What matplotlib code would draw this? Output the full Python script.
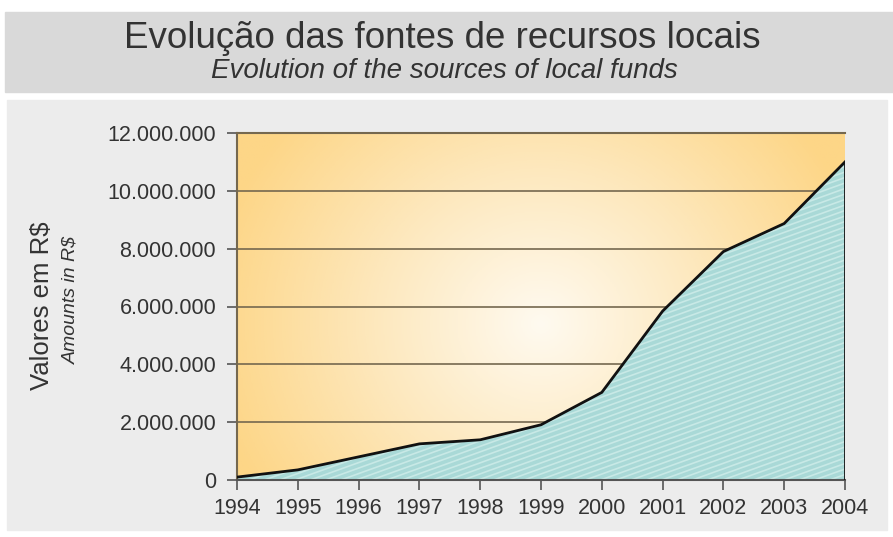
import numpy as np
import matplotlib.pyplot as plt
from matplotlib.patches import Rectangle
from matplotlib.collections import LineCollection
from matplotlib.colors import LinearSegmentedColormap

years = [1994, 1995, 1996, 1997, 1998, 1999, 2000, 2001, 2002, 2003, 2004]
valores = [100000, 350000, 800000, 1250000, 1390000, 1910000, 3030000,
           5840000, 7900000, 8870000, 11000000]
yticks = [0, 2000000, 4000000, 6000000, 8000000, 10000000, 12000000]

plt.rcParams['font.family'] = ['Liberation Sans', 'DejaVu Sans']
txt = '#333333'

fig = plt.figure(figsize=(8.93, 5.37), dpi=100, facecolor='white')

# faixa do titulo e painel de fundo
fig.patches.append(Rectangle((5 / 893, 1 - 92 / 537), 1, 80 / 537,
                             transform=fig.transFigure, color='#d9d9d9', zorder=-2))
fig.patches.append(Rectangle((7 / 893, 1 - 530 / 537), 880 / 893, 430 / 537,
                             transform=fig.transFigure, color='#ececec', zorder=-2))

fig.text(0.495, 1 - 48 / 537, 'Evolução das fontes de recursos locais',
         ha='center', va='baseline', fontsize=26.5, color=txt)
fig.text(0.498, 1 - 78 / 537, 'Evolution of the sources of local funds',
         ha='center', va='baseline', fontsize=20, style='italic', color=txt)

ax = fig.add_axes([237 / 893, 1 - 480 / 537, 608 / 893, 347 / 537])
ax.set_xlim(years[0], years[-1])
ax.set_ylim(0, 12000000)

# fundo em degrade (laranja nas bordas, claro no centro)
gx, gy = np.meshgrid(np.linspace(0, 1, 300), np.linspace(0, 1, 200))
dist = np.sqrt(((gx - 0.5) / 0.55) ** 2 + ((gy - 0.45) / 0.9) ** 2)
dist = np.clip(dist, 0, 1)
cmap = LinearSegmentedColormap.from_list('bg', ['#fffaf0', '#fde8bd', '#fdd687'])
ax.imshow(dist, cmap=cmap, extent=[years[0], years[-1], 0, 12000000],
          aspect='auto', origin='lower', zorder=0, vmin=0, vmax=1)

for v in yticks[1:]:
    ax.axhline(v, color='#75684f', lw=1.2, zorder=1)

area = ax.fill_between(years, valores, 0, facecolor='#a9d9d7', linewidth=0, zorder=2)

# listras diagonais suaves dentro da area
w_px, h_px = 608, 347
slope = 0.36 * w_px / h_px
step = 5.5 / h_px
offs = np.arange(-slope - step, 1 + step, step)
segs = [[(0, o), (1, o + slope)] for o in offs]
stripes = LineCollection(segs, colors='#c8e9e6', linewidths=1.2,
                         transform=ax.transAxes, zorder=2.5)
ax.add_collection(stripes)
stripes.set_clip_path(area.get_paths()[0], area.get_transform())

ax.plot(years, valores, color='#111111', lw=2, zorder=3)
ax.plot([years[-1], years[-1]], [0, valores[-1]], color='#111111', lw=2, zorder=3)

ax.set_xticks(years)
ax.set_yticks(yticks)
ax.set_yticklabels(['{:,}'.format(v).replace(',', '.') for v in yticks])
ax.tick_params(axis='both', colors='#555555', labelcolor=txt, labelsize=15.5,
               direction='out', length=7, width=1.2)
ax.tick_params(axis='x', pad=6)
ax.tick_params(axis='y', pad=8)

for s in ['top', 'left']:
    ax.spines[s].set_color('#75684f')
    ax.spines[s].set_linewidth(1.5)
ax.spines['right'].set_visible(False)
ax.spines['bottom'].set_color('#555555')
ax.spines['bottom'].set_linewidth(1.5)

fig.text(42 / 893, 1 - 306 / 537, 'Valores em R$', rotation=90, ha='center',
         va='center', fontsize=18.5, color=txt)
fig.text(71 / 893, 1 - 300 / 537, 'Amounts in R$', rotation=90, ha='center',
         va='center', fontsize=14, style='italic', color=txt)

fig.savefig('out.png', dpi=100, facecolor='white')
